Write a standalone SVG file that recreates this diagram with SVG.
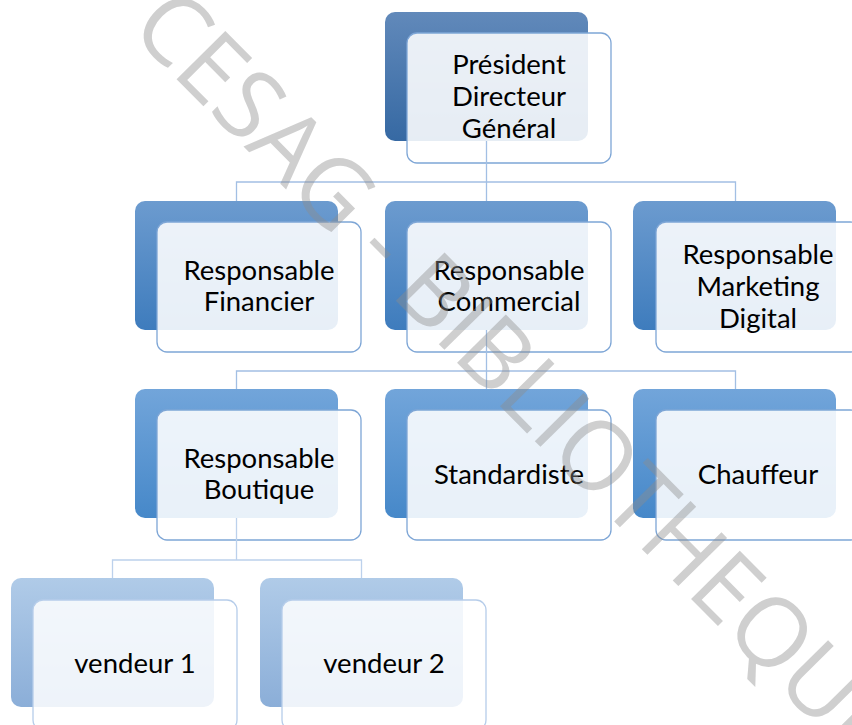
<svg xmlns="http://www.w3.org/2000/svg" width="852" height="725" viewBox="0 0 852 725">
  <defs>
    <linearGradient id="g-l1" x1="0" y1="0" x2="0" y2="1">
      <stop offset="0" stop-color="#6189ba"/>
      <stop offset="1" stop-color="#3669a3"/>
    </linearGradient>
    <linearGradient id="g-l2" x1="0" y1="0" x2="0" y2="1">
      <stop offset="0" stop-color="#6c9bcf"/>
      <stop offset="1" stop-color="#3e7cbd"/>
    </linearGradient>
    <linearGradient id="g-l3" x1="0" y1="0" x2="0" y2="1">
      <stop offset="0" stop-color="#72a5da"/>
      <stop offset="1" stop-color="#4688c9"/>
    </linearGradient>
    <linearGradient id="g-l4" x1="0" y1="0" x2="0" y2="1">
      <stop offset="0" stop-color="#b0cbe8"/>
      <stop offset="1" stop-color="#8baed8"/>
    </linearGradient>
    <style>
      .back { rx: 10px; ry: 10px; }
      .front { fill: #ffffff; fill-opacity: 0.88; stroke: #7ea6d6; stroke-width: 1.3; }
      .front4 { fill: #ffffff; fill-opacity: 0.85; stroke: #b6cdea; stroke-width: 1.3; }
      .lbl { font-family: Lato, "Liberation Sans", sans-serif; font-size: 27.5px; fill: #000; text-anchor: middle; }
      .conn { fill: none; stroke: #a2bfe4; stroke-width: 1.3; }
      .conn4 { fill: none; stroke: #bcd1ec; stroke-width: 1.3; }
      .wm { font-family: "Open Sans", "Liberation Sans", Arial, sans-serif; font-weight: 400; font-size: 96px; fill: #8c8c8c; fill-opacity: 0.42; }
    </style>
  </defs>

  <rect width="852" height="725" fill="#ffffff"/>

  <!-- President -->
  <g id="node-pdg">
    <rect class="back" x="385" y="12" width="203" height="129" fill="url(#g-l1)"/>
    <rect class="front" x="407" y="33" width="204" height="130" rx="10"/>
    <text class="lbl" x="509" y="74">Président</text>
    <text class="lbl" x="509" y="106">Directeur</text>
    <text class="lbl" x="509" y="138">Général</text>
  </g>

  <!-- Level 2 -->
  <g id="node-financier">
    <rect class="back" x="135" y="201" width="203" height="129" fill="url(#g-l2)"/>
    <rect class="front" x="157" y="222" width="204" height="130" rx="10"/>
    <text class="lbl" x="259" y="280">Responsable</text>
    <text class="lbl" x="259" y="311">Financier</text>
  </g>
  <g id="node-commercial">
    <rect class="back" x="385" y="201" width="203" height="129" fill="url(#g-l2)"/>
    <rect class="front" x="407" y="222" width="204" height="130" rx="10"/>
    <text class="lbl" x="509" y="280">Responsable</text>
    <text class="lbl" x="509" y="311">Commercial</text>
  </g>
  <g id="node-marketing">
    <rect class="back" x="633" y="201" width="203" height="129" fill="url(#g-l2)"/>
    <rect class="front" x="656" y="222" width="204" height="130" rx="10"/>
    <text class="lbl" x="758" y="264">Responsable</text>
    <text class="lbl" x="758" y="296">Marketing</text>
    <text class="lbl" x="758" y="328">Digital</text>
  </g>

  <!-- Level 3 -->
  <g id="node-boutique">
    <rect class="back" x="135" y="389" width="203" height="129" fill="url(#g-l3)"/>
    <rect class="front" x="157" y="410" width="204" height="130" rx="10"/>
    <text class="lbl" x="259" y="468">Responsable</text>
    <text class="lbl" x="259" y="499">Boutique</text>
  </g>
  <g id="node-standardiste">
    <rect class="back" x="385" y="389" width="203" height="129" fill="url(#g-l3)"/>
    <rect class="front" x="407" y="410" width="204" height="130" rx="10"/>
    <text class="lbl" x="509" y="484">Standardiste</text>
  </g>
  <g id="node-chauffeur">
    <rect class="back" x="633" y="389" width="203" height="129" fill="url(#g-l3)"/>
    <rect class="front" x="656" y="410" width="204" height="130" rx="10"/>
    <text class="lbl" x="758" y="484">Chauffeur</text>
  </g>

  <!-- Level 4 -->
  <g id="node-vendeur1">
    <rect class="back" x="11" y="578" width="203" height="129" fill="url(#g-l4)"/>
    <rect class="front4" x="33" y="600" width="204" height="130" rx="10"/>
    <text class="lbl" x="135" y="673">vendeur 1</text>
  </g>
  <g id="node-vendeur2">
    <rect class="back" x="260" y="578" width="203" height="129" fill="url(#g-l4)"/>
    <rect class="front4" x="282" y="600" width="204" height="130" rx="10"/>
    <text class="lbl" x="384" y="673">vendeur 2</text>
  </g>

  <!-- Connectors -->
  <g id="connectors">
    <path class="conn" d="M486.5 141 V182 M236.5 201 V182 H735.5 V201 M486.5 182 V201"/>
    <path class="conn" d="M486.5 330 V371 M236.5 389 V371 H735.5 V389 M486.5 371 V389"/>
    <path class="conn4" d="M236.5 518 V560 M112.5 578 V560 H361.5 V578"/>
  </g>

  <!-- Watermark -->
  <text class="wm" transform="translate(128 30) rotate(45.3)" x="0" y="0" textLength="1040" lengthAdjust="spacing">CESAG - BIBLIOTHEQUE</text>
</svg>
